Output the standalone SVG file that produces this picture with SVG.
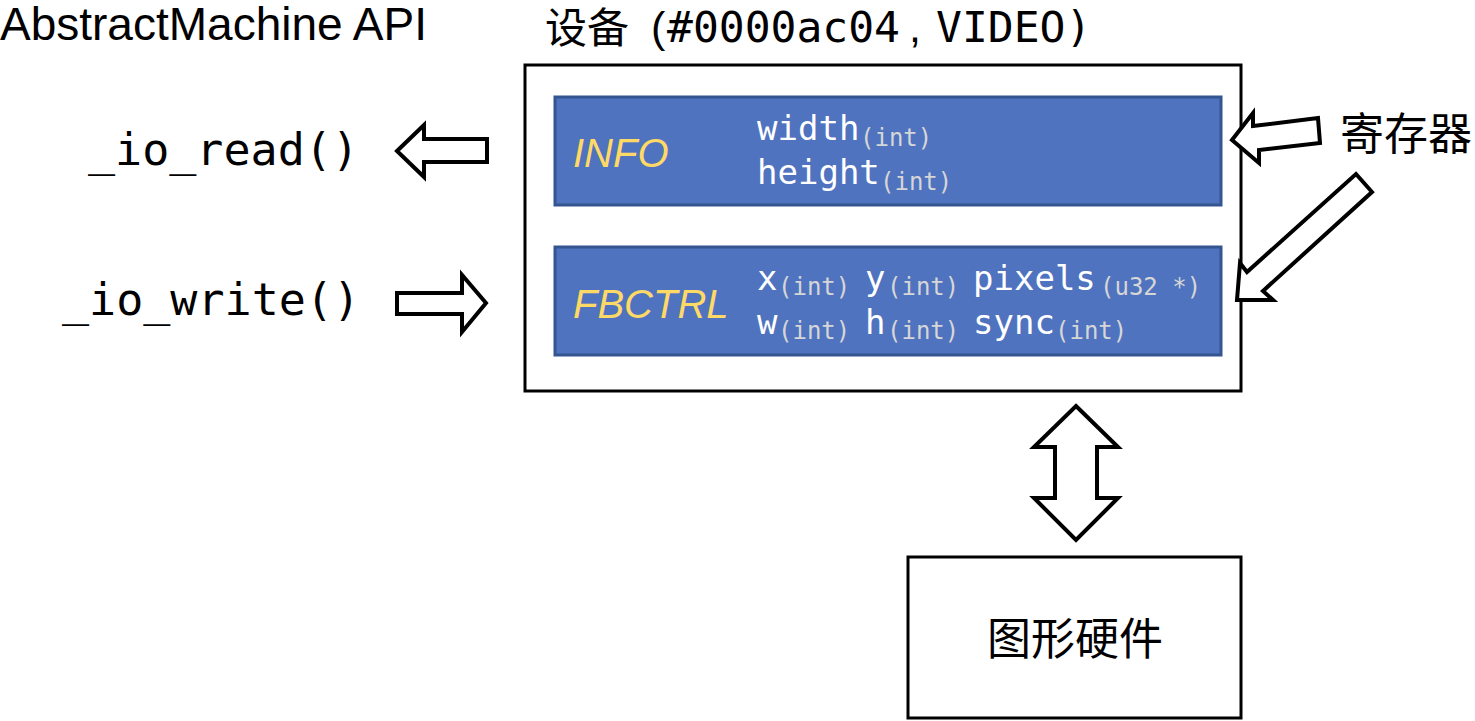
<svg xmlns="http://www.w3.org/2000/svg" width="1475" height="721" viewBox="0 0 1475 721">
<style>
.sans{font-family:"Liberation Sans","Noto Sans CJK SC",sans-serif;fill:#000}
.cjk{font-family:"Noto Sans CJK SC","Liberation Sans",sans-serif;fill:#000}
.mono{font-family:"DejaVu Sans Mono","Liberation Mono",monospace}
.reg{fill:#4F73BF;stroke:#34558F;stroke-width:3}
.name{font-family:"Liberation Sans",sans-serif;font-style:italic;font-size:40px;fill:#FFD966}
.fld{font-size:34px;fill:#fff}
.sub{font-size:24px;fill:#D6D6D6}
.box{fill:#fff;stroke:#000;stroke-width:3}
.arr{fill:#fff;stroke:#000;stroke-width:4;stroke-linejoin:miter}
</style>
<g id="api-title"><text class="sans" x="0" y="40" font-size="46">AbstractMachine API</text></g>
<g id="io-read"><text class="mono" x="88" y="165" font-size="45" fill="#000">_io_read()</text></g>
<g id="io-write"><text class="mono" x="62" y="315" font-size="45" fill="#000">_io_write()</text></g>
<g id="device-title">
<text class="sans" x="545" y="43" font-size="42">设备</text>
<text class="sans" x="651" y="42" font-size="43">(</text>
<text class="mono" x="667" y="42" font-size="43" fill="#000">#0000ac04</text>
<text class="sans" x="909" y="42" font-size="43">,</text>
<text class="mono" x="936" y="42" font-size="43" fill="#000">VIDEO)</text>
</g>
<g id="device">
<rect class="box" x="525" y="65" width="716" height="326"/>
<g id="info">
<rect class="reg" x="555" y="97" width="666" height="108"/>
<text class="name" x="573" y="167">INFO</text>
<text class="mono fld" x="757" y="140">width</text><text class="mono sub" x="860" y="146">(int)</text>
<text class="mono fld" x="757" y="184">height</text><text class="mono sub" x="880" y="190">(int)</text>
</g>
<g id="fbctrl">
<rect class="reg" x="555" y="247" width="666" height="108"/>
<text class="name" x="573" y="318">FBCTRL</text>
<text class="mono fld" x="757" y="290">x</text><text class="mono sub" x="778" y="295">(int)</text>
<text class="mono fld" x="865" y="290">y</text><text class="mono sub" x="887" y="295">(int)</text>
<text class="mono fld" x="973" y="290">pixels</text><text class="mono sub" x="1100" y="295">(u32 *)</text>
<text class="mono fld" x="757" y="334">w</text><text class="mono sub" x="778" y="339">(int)</text>
<text class="mono fld" x="865" y="334">h</text><text class="mono sub" x="887" y="339">(int)</text>
<text class="mono fld" x="973" y="334">sync</text><text class="mono sub" x="1055" y="339">(int)</text>
</g>
</g>
<g id="registers"><text class="cjk" x="1340" y="150" font-size="44">寄存器</text></g>
<g id="hardware">
<rect class="box" x="908" y="557" width="333" height="161"/>
<text class="cjk" x="1075" y="655" font-size="44" text-anchor="middle">图形硬件</text>
</g>
<g id="connectors">
<polygon class="arr" points="397,151 424,125 424,139 487,139 487,162 424,162 424,177"/>
<polygon class="arr" points="486,303 462,275 462,293 397,293 397,314 462,314 462,332"/>
<polygon class="arr" points="1076,406 1118,447 1097,447 1097,498 1118,498 1076,540 1034,498 1055,498 1055,447 1034,447"/>
<polygon class="arr" points="1232,140 1253,113 1253,126 1318,118 1320,143 1259,150 1259,163"/>
<polygon class="arr" points="1237,300 1240,263 1247,272 1356,174 1372,192 1263,291 1273,300"/>
</g>
</svg>
